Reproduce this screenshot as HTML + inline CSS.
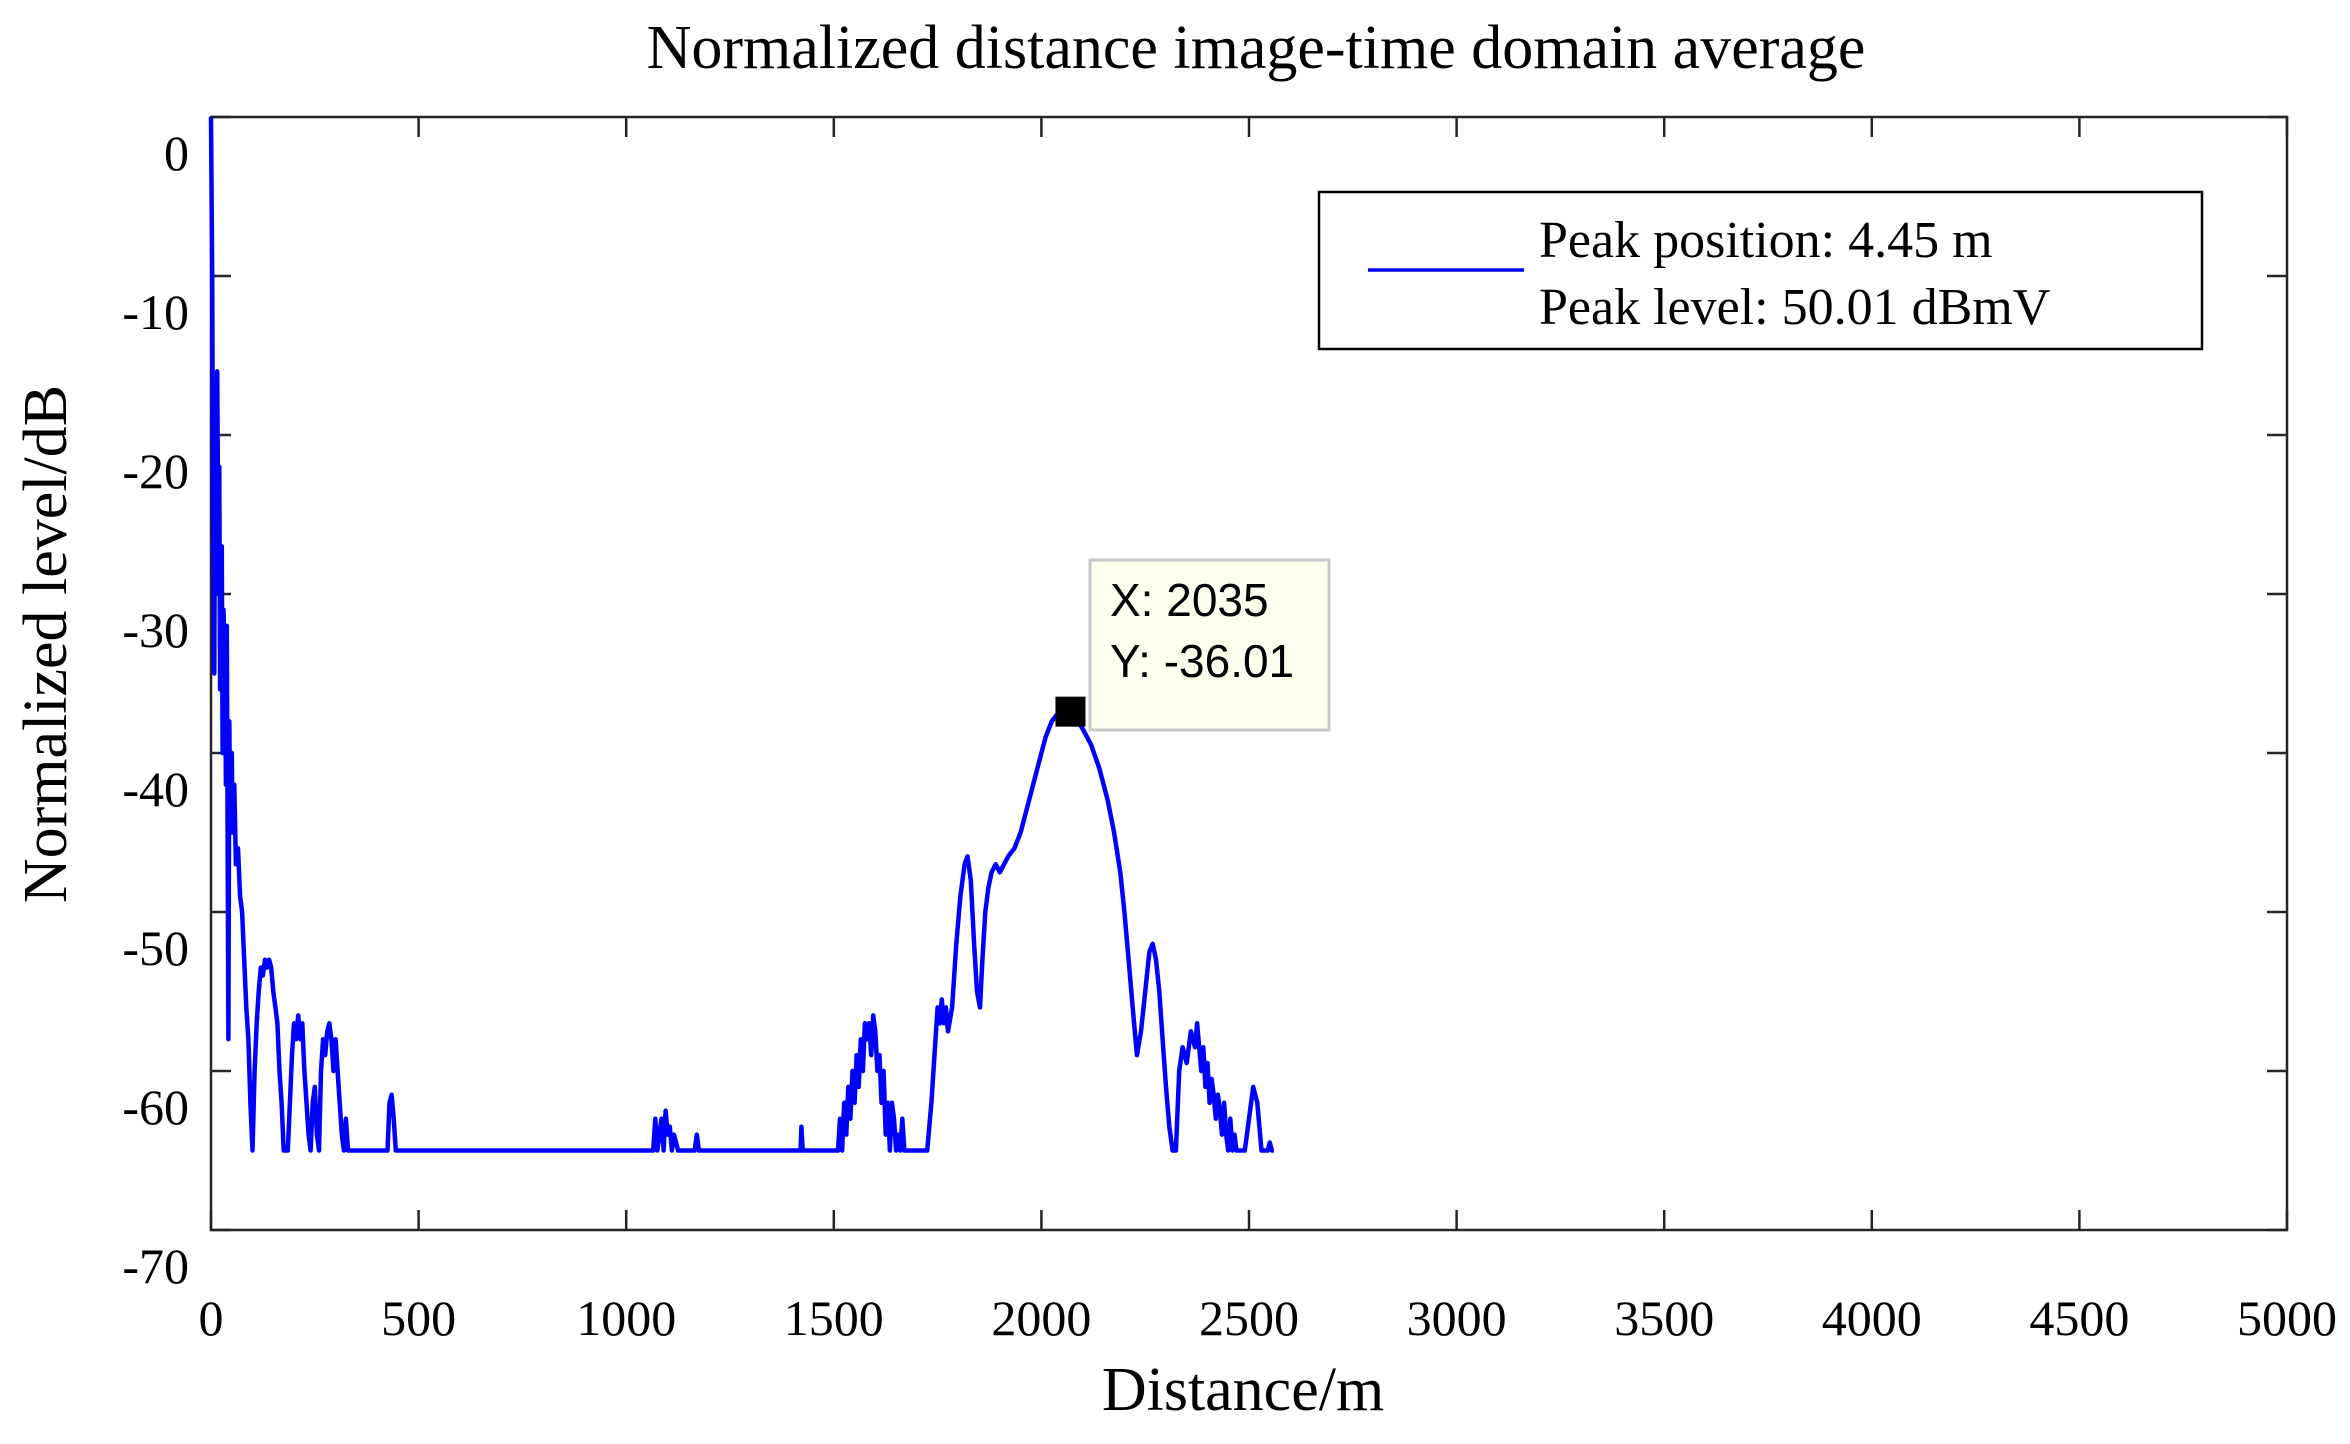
<!DOCTYPE html>
<html><head><meta charset="utf-8">
<style>
html,body{margin:0;padding:0;background:#fff;}
svg{display:block;}
</style></head>
<body>
<svg id="chart" width="2350" height="1444" viewBox="0 0 2350 1444" xmlns="http://www.w3.org/2000/svg">
<text x="1256" y="68" font-family="Liberation Serif, serif" font-size="62" text-anchor="middle" fill="#000">Normalized distance image-time domain average</text>
<g id="axes"></g>
<g id="series"></g>
<text x="1243" y="1410" font-family="Liberation Serif, serif" font-size="62" text-anchor="middle" fill="#000">Distance/m</text>
<text transform="translate(66,644) rotate(-90)" font-family="Liberation Serif, serif" font-size="62" text-anchor="middle" fill="#000">Normalized level/dB</text>
<g>
<rect x="1319" y="192" width="883" height="157" fill="#fff" stroke="#000" stroke-width="2.5"/>
<line x1="1368" y1="270" x2="1524" y2="270" stroke="#0000ff" stroke-width="3.5"/>
<text x="1539" y="257" font-family="Liberation Serif, serif" font-size="52" fill="#000">Peak position: 4.45 m</text>
<text x="1539" y="324" font-family="Liberation Serif, serif" font-size="52" fill="#000">Peak level: 50.01 dBmV</text>
</g>
<g id="tip"></g>
</svg>
<script>
const xTicks=[0,500,1000,1500,2000,2500,3000,3500,4000,4500,5000];
const yTicks=[0,-10,-20,-30,-40,-50,-60,-70];
const distances=[0,3,5,8,10,12,15,18,20,22,26,28,30,34,36,38,40,42,44,46,50,52,56,60,65,70,75,80,85,90,95,100,105,110,115,120,125,130,135,140,145,150,155,160,165,170,175,180,185,190,195,200,205,210,215,220,225,230,235,240,245,250,255,260,265,270,275,280,285,290,295,300,305,310,315,320,325,330,340,
425,430,435,440,445,450,460,
1065,1070,1075,1085,1090,1095,1100,1105,1110,1115,1125,1165,1170,1175,1420,1422,1425,
1510,1515,1520,1525,1530,1535,1540,1545,1550,1555,1560,1565,1570,1575,1580,1585,1590,1595,1600,1605,1610,1615,1620,1625,1630,1635,1640,1645,1650,1655,1660,1665,1670,1680,1725,1735,1745,1750,1755,1760,1765,1770,1775,1785,1795,1805,1815,1822,1830,1838,1845,1852,1858,1865,1872,1880,1890,1900,1910,1920,1935,1950,1965,1980,1995,2010,2025,2040,2060,2080,2100,2120,2140,2160,2175,2190,2200,2210,2220,2230,2240,2248,2254,2260,2268,2276,2284,2292,2300,2308,2316,2324,2332,2340,2350,2360,2370,2375,2380,2385,2390,2395,2400,2405,2410,2415,2420,2425,2430,2435,2440,2445,2450,2455,2460,2465,2470,2475,2480,2490,2500,2510,2520,2530,2535,2540,2545,2550,2555,2560,
3555,3560,3565,5000];
const levels=[0,-10,-25,-35,-18,-30,-16,-28,-22,-36,-27,-40,-31,-35,-42,-32,-45,-58,-38,-44,-40,-45,-42,-47,-46,-49,-50,-53,-56,-58,-62,-65,-60,-57,-55,-53.5,-54,-53,-53.5,-53,-53.5,-55,-56,-57,-60,-62,-65,-65,-65,-62,-59,-57,-58,-56.5,-58,-57,-60,-62,-64,-65,-62,-61,-64,-65,-60,-58,-59,-57.5,-57,-58,-60,-58,-60,-62,-64,-65,-63,-65,-65,
-65,-62,-61.5,-63,-65,-65,-65,
-65,-63,-65,-63,-65,-62.5,-64,-63.5,-65,-64,-65,-65,-64,-65,-65,-63.5,-65,
-65,-63,-65,-62,-64,-61,-63,-60,-62,-59,-61,-58,-60,-57,-58,-57,-59,-56.5,-57.5,-60,-59,-62,-60,-64,-62,-65,-62,-63,-65,-64,-65,-63,-65,-65,-65,-62,-58,-56,-57,-55.5,-57,-56,-57.5,-56,-52,-49,-47,-46.5,-48,-52,-55,-56,-53,-50,-48.5,-47.5,-47,-47.5,-47,-46.5,-46,-45,-43.5,-42,-40.5,-39,-38,-37.5,-37.2,-37.7,-38.5,-39.5,-41,-43,-45,-47.5,-50,-53,-56,-59,-57.5,-55.5,-54,-52.5,-52,-53,-55,-58,-61,-63.5,-65,-65,-60,-58.5,-59.5,-57.5,-58.5,-57,-58.5,-60,-58.5,-61,-59.5,-62,-60.5,-61.5,-63,-61.5,-62.5,-64,-62,-64,-65,-63,-65,-64,-65,-65,-65,-65,-63,-61,-62,-65,-65,-65,
-65,-64.5,-65,-65];
const X0=211,X1=2287,Y0=117,Y1=1230;
const xs=v=>X0+v/5000*(X1-X0);
const ys=v=>Y0+(-v)/70*(Y1-Y0);
const NS='http://www.w3.org/2000/svg';
const axes=document.getElementById('axes');
function mk(tag,parent){const e=document.createElementNS(NS,tag);parent.appendChild(e);return e;}
const frame=mk('rect',axes);


frame.setAttribute('x',X0);frame.setAttribute('y',Y0);frame.setAttribute('width',X1-X0);frame.setAttribute('height',Y1-Y0);
frame.setAttribute('fill','none');frame.setAttribute('stroke','#262626');frame.setAttribute('stroke-width','2.5');
xTicks.forEach(t=>{
  const x=xs(t);
  [[Y1,Y1-20],[Y0,Y0+20]].forEach(p=>{const l=mk('line',axes);
    
    
    l.setAttribute('x1',x);l.setAttribute('x2',x);l.setAttribute('y1',p[0]);l.setAttribute('y2',p[1]);l.setAttribute('stroke','#262626');l.setAttribute('stroke-width','2.5');});
  const tx=mk('text',axes);
  
  
  tx.setAttribute('x',x);tx.setAttribute('y',1335);tx.setAttribute('text-anchor','middle');
  tx.setAttribute('font-family','Liberation Serif, serif');tx.setAttribute('font-size','50');tx.textContent=t;
});
yTicks.forEach(t=>{
  const y=ys(t);
  [[X0,X0+20],[X1,X1-20]].forEach(p=>{const l=mk('line',axes);
    
    
    l.setAttribute('y1',y);l.setAttribute('y2',y);l.setAttribute('x1',p[0]);l.setAttribute('x2',p[1]);l.setAttribute('stroke','#262626');l.setAttribute('stroke-width','2.5');});
  const tx=mk('text',axes);
  
  
  tx.setAttribute('x',189);tx.setAttribute('y',y+53);tx.setAttribute('text-anchor','end');
  tx.setAttribute('font-family','Liberation Serif, serif');tx.setAttribute('font-size','50');tx.textContent=t;
});
const series=document.getElementById('series');
const pl=mk('polyline',series);


pl.setAttribute('points',distances.map((d,i)=>xs(d).toFixed(1)+','+ys(levels[i]).toFixed(1)).join(' '));
pl.setAttribute('fill','none');pl.setAttribute('stroke','#0000ff');pl.setAttribute('stroke-width','4.5');pl.setAttribute('stroke-linejoin','round');
const tipX=[2070],tipY=[-37.4];
const tip=document.getElementById('tip');
const bx=mk('rect',tip);


bx.setAttribute('x',1090);bx.setAttribute('y',560);bx.setAttribute('width',239);bx.setAttribute('height',170);
bx.setAttribute('fill','#ffffee');bx.setAttribute('stroke','#c8c8c8');bx.setAttribute('stroke-width','3');
['X: 2035','Y: -36.01'].forEach((s,i)=>{const t=mk('text',tip);
  
  
  t.setAttribute('x',1110);t.setAttribute('y',616+i*61);t.setAttribute('font-family','Liberation Sans, sans-serif');t.setAttribute('font-size','46');t.textContent=s;});
const mkr=mk('rect',tip);


mkr.setAttribute('x',xs(tipX[0])-15);mkr.setAttribute('y',ys(tipY[0])-15);mkr.setAttribute('width',30);mkr.setAttribute('height',30);mkr.setAttribute('fill','#000');
</script>
</body></html>
